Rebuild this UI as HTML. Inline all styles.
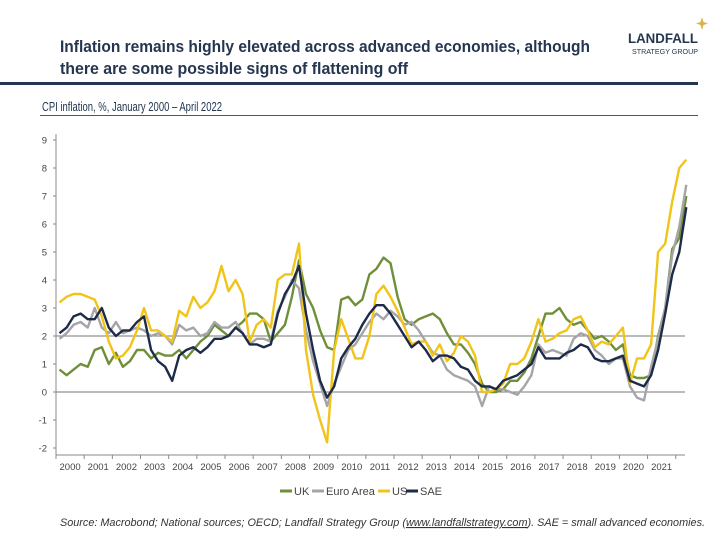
<!DOCTYPE html>
<html><head><meta charset="utf-8"><style>
body{margin:0;background:#fff;font-family:"Liberation Sans",sans-serif;}
#wrap{position:relative;width:720px;height:540px;overflow:hidden;}
</style></head><body>
<div id="wrap">
<svg id="svg" width="720" height="540" xmlns="http://www.w3.org/2000/svg">
<text x="60" y="52" font-size="17" font-weight="bold" fill="#243650" textLength="530" lengthAdjust="spacingAndGlyphs">Inflation remains highly elevated across advanced economies, although</text>
<text x="60" y="74" font-size="17" font-weight="bold" fill="#243650" textLength="348" lengthAdjust="spacingAndGlyphs">there are some possible signs of flattening off</text>
<text x="698" y="43" font-size="14" font-weight="bold" text-anchor="end" fill="#243650" textLength="70" lengthAdjust="spacingAndGlyphs">LANDFALL</text>
<text x="698" y="54" font-size="7" text-anchor="end" fill="#243650" textLength="66" lengthAdjust="spacingAndGlyphs">STRATEGY GROUP</text>
<path d="M702 17 L703.5 22 L708 23.5 L703.5 25 L702 30 L700.5 25 L696 23.5 L700.5 22 Z" fill="#d9b44a"/>
<rect x="0" y="82" width="698" height="3" fill="#243650"/>
<text x="42" y="111" font-size="12.5" fill="#243650" textLength="180" lengthAdjust="spacingAndGlyphs">CPI inflation, %, January 2000 – April 2022</text>
<line x1="40" y1="115.5" x2="698" y2="115.5" stroke="#555" stroke-width="1"/>
<g id="plot"></g>
<g>
<line x1="280" y1="491" x2="292" y2="491" stroke="#6f8f3a" stroke-width="3"/>
<text x="294" y="495" font-size="11" fill="#444">UK</text>
<line x1="312" y1="491" x2="324" y2="491" stroke="#a5a5a8" stroke-width="3"/>
<text x="326" y="495" font-size="11" fill="#444">Euro Area</text>
<line x1="378" y1="491" x2="390" y2="491" stroke="#f0c419" stroke-width="3"/>
<text x="392" y="495" font-size="11" fill="#444">US</text>
<line x1="406" y1="491" x2="418" y2="491" stroke="#1e2a4a" stroke-width="3"/>
<text x="420" y="495" font-size="11" fill="#444">SAE</text>
</g>
<text x="60" y="526" font-size="11" font-style="italic" fill="#333" textLength="645" lengthAdjust="spacingAndGlyphs">Source: Macrobond; National sources; OECD; Landfall Strategy Group (<tspan text-decoration="underline">www.landfallstrategy.com</tspan>). SAE = small advanced economies.</text>
</svg>
</div>
<script>
const yTicks=[-2,-1,0,1,2,3,4,5,6,7,8,9];
const years=[2000,2001,2002,2003,2004,2005,2006,2007,2008,2009,2010,2011,2012,2013,2014,2015,2016,2017,2018,2019,2020,2021];
const refLines=[0,2];
const ukValues=[0.8,0.6,0.8,1.0, 0.9,1.5,1.6,1.0, 1.4,0.9,1.1,1.5, 1.5,1.2,1.4,1.3, 1.3,1.5,1.2,1.5, 1.8,2.0,2.4,2.2, 2.0,2.3,2.5,2.8, 2.8,2.6,1.8,2.1, 2.4,3.4,4.7,3.5, 3.0,2.2,1.6,1.5, 3.3,3.4,3.1,3.3, 4.2,4.4,4.8,4.6, 3.4,2.6,2.4,2.6, 2.7,2.8,2.6,2.1, 1.7,1.7,1.4,1.0, 0.3,0.0,0.0,0.1, 0.4,0.4,0.7,1.2, 2.0,2.8,2.8,3.0, 2.6,2.4,2.5,2.2, 1.9,2.0,1.8,1.5, 1.7,0.6,0.5,0.5, 0.6,2.0,3.0,5.1, 5.5,7.0];
const euroValues=[1.9,2.1,2.4,2.5, 2.3,3.0,2.3,2.1, 2.5,2.1,2.2,2.3, 2.2,2.0,2.1,2.0, 1.7,2.4,2.2,2.3, 2.0,2.1,2.5,2.3, 2.3,2.5,2.1,1.7, 1.9,1.9,1.8,2.9, 3.4,4.0,3.7,2.2, 1.1,0.3,-0.5,0.3, 0.9,1.5,1.7,2.1, 2.5,2.8,2.6,2.9, 2.7,2.4,2.5,2.2, 1.8,1.4,1.3,0.8, 0.6,0.5,0.4,0.2, -0.5,0.2,0.1,0.1, 0.0,-0.1,0.2,0.6, 1.7,1.4,1.5,1.4, 1.3,1.9,2.1,2.0, 1.5,1.3,1.0,1.2, 1.2,0.2,-0.2,-0.3, 0.9,1.9,3.0,4.9, 5.9,7.4];
const usValues=[3.2,3.4,3.5,3.5, 3.4,3.3,2.7,1.8, 1.2,1.3,1.6,2.2, 3.0,2.2,2.2,2.0, 1.8,2.9,2.7,3.4, 3.0,3.2,3.6,4.5, 3.6,4.0,3.5,1.8, 2.4,2.6,2.3,4.0, 4.2,4.2,5.3,1.5, -0.1,-1.0,-1.8,1.5, 2.6,1.9,1.2,1.2, 2.0,3.5,3.8,3.4, 2.9,2.3,1.7,1.8, 1.8,1.3,1.7,1.1, 1.4,2.0,1.8,1.3, 0.0,0.0,0.1,0.3, 1.0,1.0,1.2,1.8, 2.6,1.8,1.9,2.1, 2.2,2.6,2.7,2.2, 1.6,1.8,1.7,2.0, 2.3,0.3,1.2,1.2, 1.7,5.0,5.3,6.8, 8.0,8.3];
const saeValues=[2.1,2.3,2.7,2.8, 2.6,2.6,3.0,2.3, 2.0,2.2,2.2,2.5, 2.7,1.5,1.1,0.9, 0.4,1.3,1.5,1.6, 1.4,1.6,1.9,1.9, 2.0,2.3,2.1,1.7, 1.7,1.6,1.7,2.8, 3.5,3.9,4.5,2.8, 1.5,0.4,-0.2,0.2, 1.2,1.6,1.9,2.4, 2.8,3.1,3.1,2.8, 2.4,2.0,1.6,1.8, 1.5,1.1,1.3,1.3, 1.2,0.9,0.8,0.4, 0.2,0.2,0.1,0.4, 0.5,0.6,0.8,1.0, 1.6,1.2,1.2,1.2, 1.4,1.5,1.7,1.6, 1.2,1.1,1.1,1.2, 1.3,0.4,0.3,0.2, 0.6,1.5,2.8,4.2, 5.0,6.6];

const NS='http://www.w3.org/2000/svg';
const X0=56, YW=28.17, Xend=685;
function xYear(t){return X0+(t-2000)*YW;}
function yVal(v){return 392-v*28;}
function xIdx(i){return xYear(2000+i/4+0.125);}
const plot=document.getElementById('plot');
function mk(tag,attrs){const e=document.createElementNS(NS,tag);for(const k in attrs)e.setAttribute(k,attrs[k]);plot.appendChild(e);return e;}

refLines.forEach(v=>{
  const l=mk('line',{x1:X0,x2:Xend,y1:yVal(v),y2:yVal(v),stroke:'#777','stroke-width':1});
  
  
});
const ya=mk('line',{x1:X0,x2:X0,y1:134,y2:455,stroke:'#888','stroke-width':1});


const xa=mk('line',{x1:X0,x2:Xend,y1:455,y2:455,stroke:'#888','stroke-width':1});


yTicks.forEach(v=>{
  const t=mk('line',{x1:X0-3,x2:X0,y1:yVal(v),y2:yVal(v),stroke:'#888'});
  
  
  const tx=mk('text',{x:X0-9,y:yVal(v)+3.5,'font-size':9.5,'text-anchor':'end',fill:'#444'});
  tx.textContent=v;
  
  
});
years.concat([2022]).forEach(yr=>{
  const t=mk('line',{x1:xYear(yr),x2:xYear(yr),y1:455,y2:459,stroke:'#888'});
  
  
});
years.forEach(yr=>{
  const tx=mk('text',{x:xYear(yr+0.5),y:470,'font-size':9.5,'text-anchor':'middle',fill:'#444'});
  tx.textContent=yr;
  
  
});
function series(vals,color,name){
  const d=vals.map((v,i)=>(i?'L':'M')+xIdx(i).toFixed(1)+' '+yVal(v).toFixed(1)).join(' ');
  const p=mk('path',{d:d,fill:'none',stroke:color,'stroke-width':2.4,'stroke-linejoin':'round'});
  
  
}
series(ukValues,'#6f8f3a','uk-line');
series(euroValues,'#a5a5a8','euro-area-line');
series(usValues,'#f0c419','us-line');
series(saeValues,'#1e2a4a','sae-line');
</script>
</body></html>
